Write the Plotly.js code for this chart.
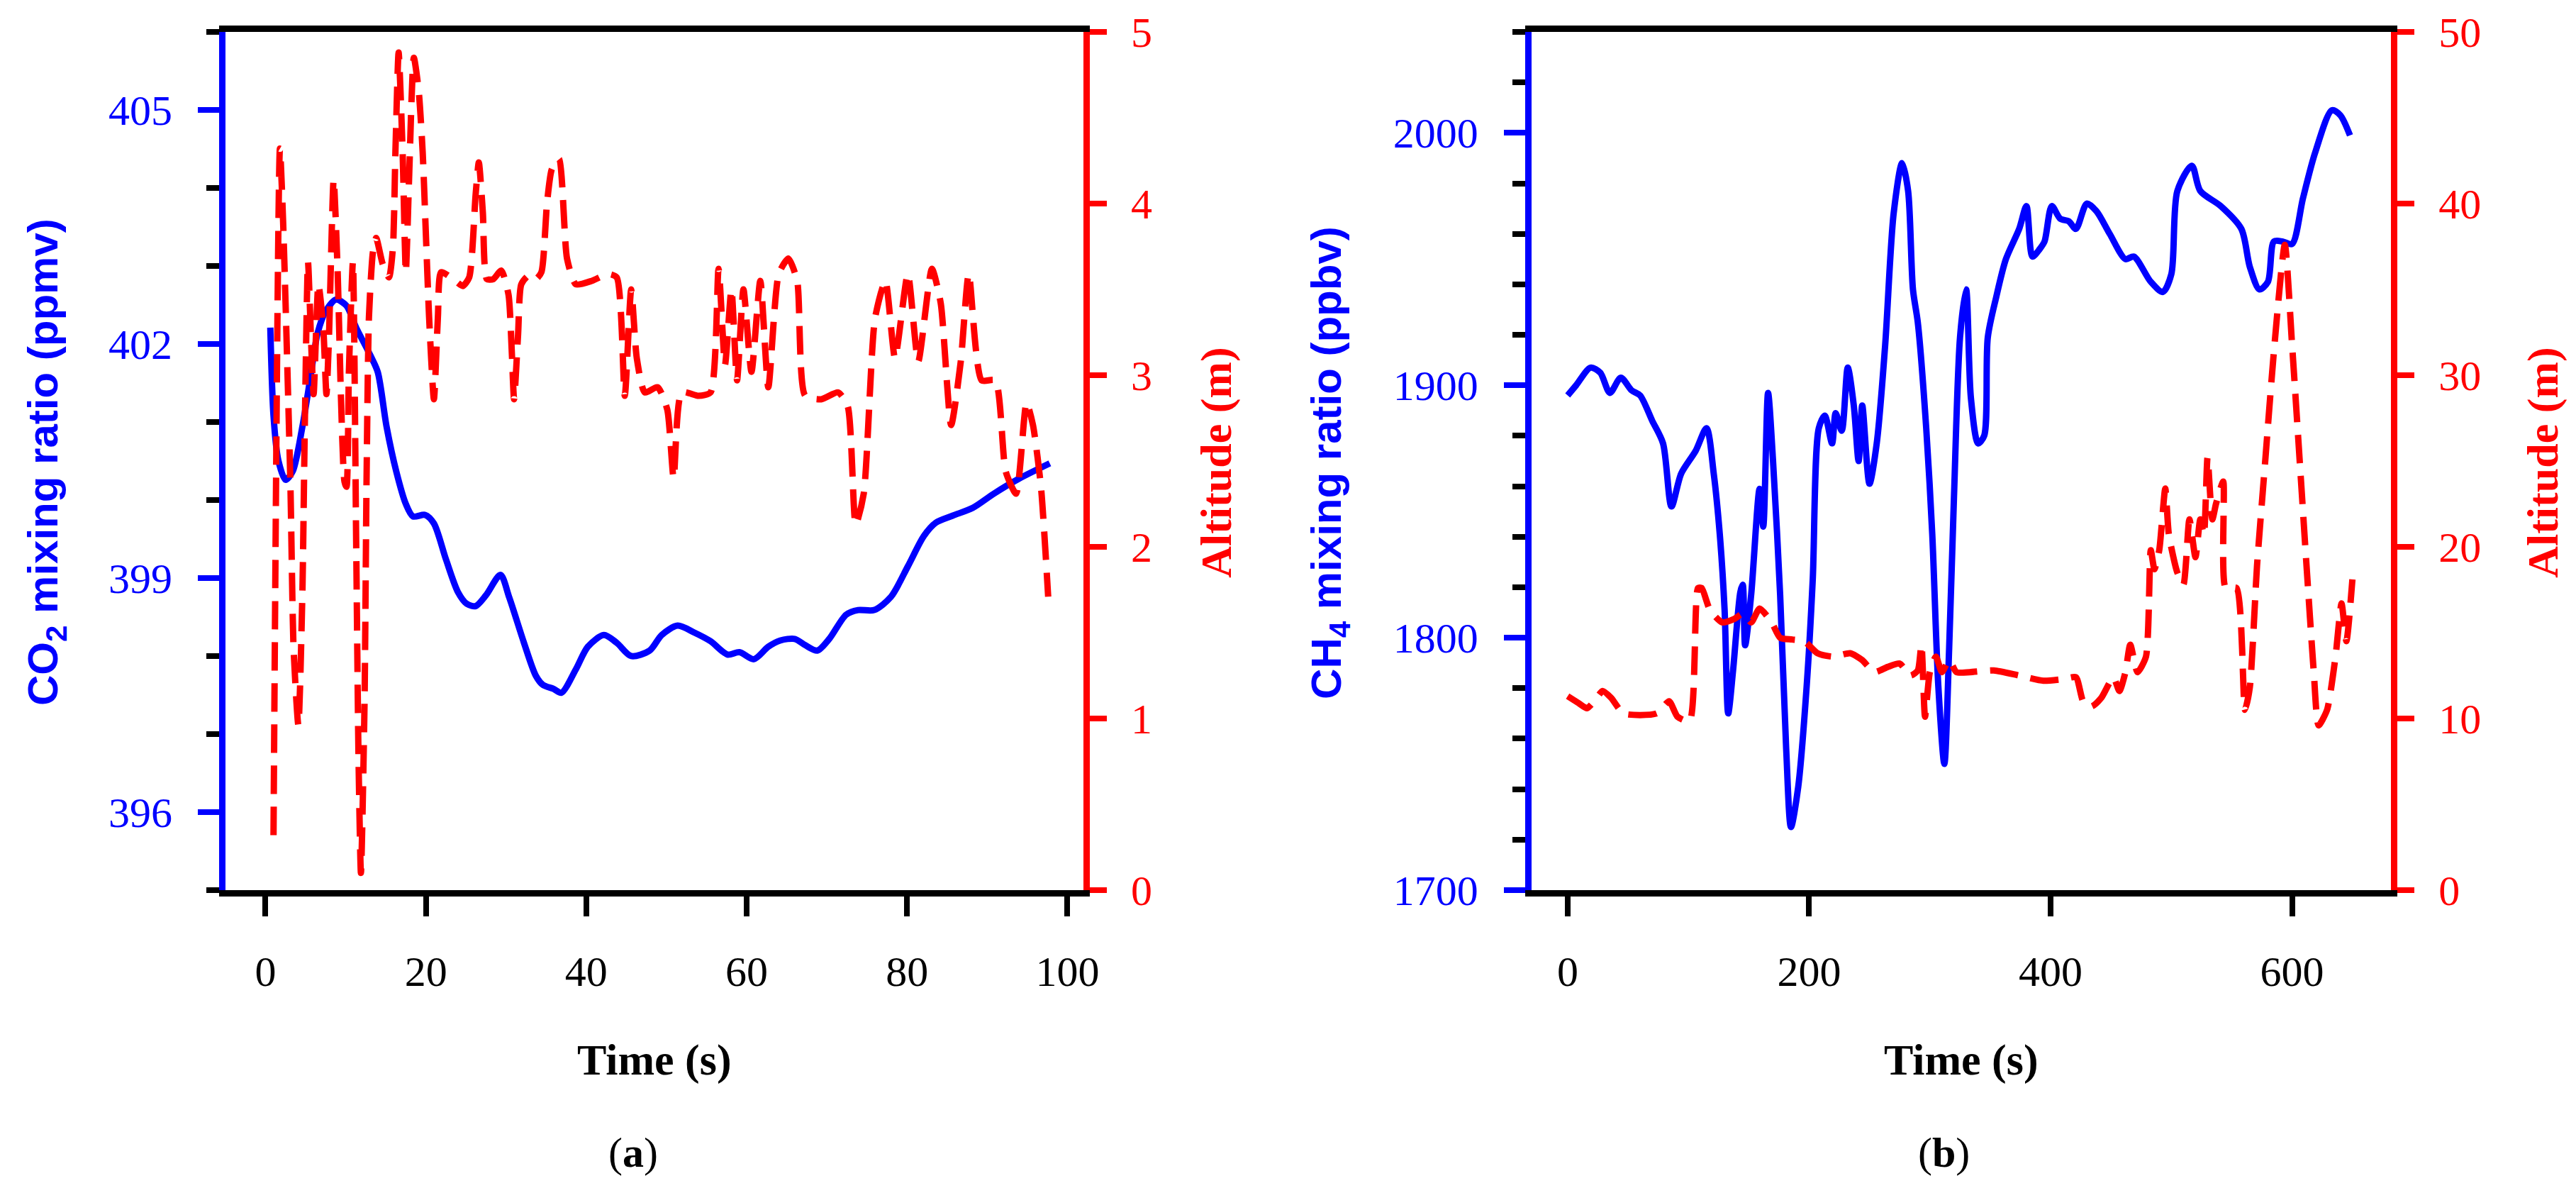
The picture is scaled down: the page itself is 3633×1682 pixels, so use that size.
<!DOCTYPE html>
<html>
<head>
<meta charset="utf-8">
<script src="https://cdn.plot.ly/plotly-3.0.1.min.js"></script>
<style>
  html, body { margin: 0; padding: 0; background: #fff; }
  #chart { width: 3633px; height: 1682px; }
</style>
</head>
<body>
<div id="chart"></div>
<script>
// panel (a): CO2 and altitude over a 100 s flight
var timeA = [0.6, 1.0, 1.6, 2.5, 3.4, 4.6, 5.6, 6.5, 7.5, 8.8, 10.1, 11.3, 13.1, 14.0, 15.1, 16.3, 17.5, 18.4, 19.9, 21.0,
    22.5, 24.0, 25.1, 26.2, 27.5, 29.3, 30.4, 32.2, 33.7, 34.6, 35.9, 36.9, 38.7, 40.2, 42.2, 43.8, 45.6, 47.9, 49.4, 51.4,
    53.5, 55.5, 57.6, 59.1, 60.9, 62.7, 64.2, 66.0, 67.3, 68.8, 70.3, 72.4, 73.9, 75.9, 78.0, 80.1, 82.1, 83.6, 85.7, 88.2,
    90.8, 93.9, 97.8];
var co2 = [402.21, 401.08, 400.51, 400.26, 400.37, 400.94, 401.57, 402.14, 402.42, 402.57, 402.49, 402.21, 401.85, 401.64, 400.94, 400.37, 399.95, 399.79, 399.81, 399.70,
    399.24, 398.82, 398.67, 398.64, 398.78, 399.04, 398.75, 398.18, 397.75, 397.63, 397.58, 397.53, 397.83, 398.12, 398.27, 398.17, 398.00, 398.07, 398.27, 398.39,
    398.30, 398.19, 398.02, 398.05, 397.96, 398.12, 398.20, 398.22, 398.14, 398.07, 398.22, 398.53, 398.59, 398.59, 398.76, 399.15, 399.54, 399.71, 399.80, 399.90,
    400.08, 400.27, 400.47];

var altTimeA = [1.0, 1.8, 2.2, 3.1, 3.5, 4.1, 4.6, 4.9, 5.3, 5.7, 6.0, 6.6, 7.2, 7.6, 7.9, 8.5, 9.0, 9.4, 9.85, 10.1,
    10.4, 10.9, 11.3, 11.6, 11.9, 12.35, 12.6, 12.9, 13.4, 13.8, 14.6, 15.4, 15.9, 16.2, 16.6, 17.1, 17.5, 17.9, 18.5, 19.1,
    19.6, 20.0, 20.4, 21.0, 21.5, 21.9, 23.4, 24.6, 25.4, 26.2, 26.6, 27.1, 27.6, 28.4, 29.4, 30.3, 30.7, 31.0, 31.5, 31.9,
    32.8, 33.7, 34.4, 35.1, 35.7, 36.6, 37.6, 38.7, 40.7, 42.7, 43.8, 44.8, 45.6, 46.3, 47.3, 48.9, 50.1, 50.9, 51.9, 54.0,
    55.5, 56.5, 57.3, 58.1, 58.8, 59.6, 60.6, 61.7, 62.7, 64.0, 65.2, 66.3, 67.3, 69.3, 71.4, 72.6, 73.6, 74.6, 76.0, 77.3,
    78.5, 80.1, 81.4, 83.1, 84.2, 85.5, 86.7, 87.7, 89.3, 91.0, 92.3, 93.6, 94.9, 95.7, 96.7, 97.6];
var altA = [0.32, 4.32, 3.89, 2.38, 1.41, 0.96, 1.73, 2.70, 3.66, 3.18, 2.89, 3.53, 3.28, 2.89, 3.20, 4.14, 3.60, 2.89, 2.38, 2.35,
    3.02, 3.66, 2.06, 0.77, 0.10, 1.09, 2.38, 3.34, 3.72, 3.80, 3.65, 3.57, 3.75, 4.30, 4.88, 4.30, 3.60, 4.14, 4.85, 4.66,
    4.30, 3.82, 3.34, 2.86, 3.34, 3.60, 3.56, 3.52, 3.57, 4.05, 4.24, 3.95, 3.56, 3.56, 3.61, 3.47, 3.15, 2.86, 3.24, 3.53,
    3.58, 3.56, 3.60, 4.00, 4.20, 4.26, 3.68, 3.53, 3.55, 3.59, 3.57, 2.88, 3.50, 3.10, 2.90, 2.93, 2.80, 2.40, 2.90, 2.88,
    2.90, 3.62, 3.06, 3.50, 2.97, 3.50, 3.02, 3.55, 2.93, 3.59, 3.68, 3.55, 2.88, 2.86, 2.90, 2.82, 2.13, 2.31, 3.33, 3.55,
    3.10, 3.59, 3.08, 3.62, 3.42, 2.71, 3.08, 3.59, 2.97, 2.97, 2.44, 2.31, 2.84, 2.71, 2.35, 1.71];

// panel (b): CH4 and altitude over a 650 s flight
var timeB = [0, 7, 19, 27, 35, 44, 53, 60, 70, 79, 86, 94, 106, 115, 121, 126, 130, 133, 137, 143,
    145, 147, 152, 159, 162, 166, 170, 176, 181, 185, 191, 198, 203, 208, 213, 219, 222, 227, 232, 237,
    241, 244, 250, 256, 263, 270, 277, 282, 286, 290, 297, 302, 307, 312, 316, 320, 325, 330, 334, 340,
    345, 348, 355, 363, 374, 380, 385, 391, 395, 401, 408, 415, 421, 430, 438, 449, 462, 469, 483, 493,
    500, 505, 517, 524, 541, 558, 565, 573, 580, 585, 592, 600, 609, 619, 633, 640, 648];
var ch4 = [1896, 1900, 1907, 1905, 1897, 1903, 1898, 1896, 1886, 1877, 1852, 1865, 1874, 1883, 1865, 1841, 1811, 1770, 1787, 1818,
    1821, 1797, 1817, 1859, 1844, 1897, 1871, 1817, 1756, 1725, 1741, 1781, 1823, 1883, 1888, 1877, 1889, 1882, 1907, 1892,
    1870, 1892, 1861, 1877, 1916, 1968, 1988, 1977, 1938, 1925, 1883, 1841, 1781, 1750, 1796, 1856, 1919, 1938, 1895, 1877,
    1880, 1919, 1935, 1950, 1962, 1971, 1951, 1954, 1957, 1971, 1966, 1965, 1962, 1972, 1969, 1960, 1950, 1951, 1941, 1937,
    1944, 1977, 1987, 1977, 1971, 1962, 1947, 1938, 1941, 1957, 1957, 1956, 1974, 1992, 2009, 2007, 1999];

var altTimeB = [0, 9, 16, 22, 29, 36, 46, 60, 74, 84, 91, 101, 108, 111, 118, 128, 138, 145, 152, 159,
    169, 176, 186, 196, 207, 220, 234, 244, 254, 265, 275, 284, 290, 293, 296, 300, 305, 310, 316, 322,
    333, 353, 374, 394, 411, 421, 427, 434, 442, 452, 457, 462, 466, 472, 479, 483, 486, 490, 495, 498,
    505, 510, 515, 520, 524, 527, 530, 534, 537, 543, 545, 554, 561, 565, 571, 578, 585, 594, 600, 607,
    612, 618, 622, 629, 636, 641, 645, 650];
var altB = [11.3, 10.9, 10.6, 11.0, 11.6, 11.2, 10.3, 10.2, 10.3, 11.0, 10.1, 9.85, 17.6, 17.6, 16.3, 15.6, 15.8, 16.1, 15.6, 16.4,
    15.6, 14.7, 14.6, 14.5, 13.8, 13.6, 13.8, 13.4, 12.7, 13.0, 13.2, 12.5, 12.8, 14.3, 10.1, 12.7, 13.6, 12.7, 13.4, 12.7,
    12.7, 12.8, 12.5, 12.2, 12.3, 12.4, 11.0, 10.7, 11.2, 12.4, 11.6, 12.7, 14.3, 12.7, 13.6, 19.8, 18.7, 19.8, 23.4, 20.7,
    18.5, 17.8, 21.6, 19.4, 21.6, 20.7, 25.2, 21.6, 22.5, 23.8, 17.6, 17.6, 10.5, 11.8, 18.9, 25.2, 31.4, 37.6, 31.8, 24.3,
    18.9, 12.7, 9.6, 10.5, 13.6, 16.7, 14.5, 18.1];

var blue = "#0000FF";
var red = "#FF0000";
var serif = "Liberation Serif, Times New Roman, serif";
var sans = "Liberation Sans, Arial, sans-serif";

function gasTrace(x, y, xa, ya){
    return {
        type: "scatter", mode: "lines", x: x, y: y, xaxis: xa, yaxis: ya,
        line: {color: blue, width: 9, shape: "spline", smoothing: 0.8},
        hoverinfo: "skip"
    };
}

function altTrace(x, y, xa, ya){
    return {
        type: "scatter", mode: "lines", x: x, y: y, xaxis: xa, yaxis: ya,
        line: {color: red, width: 9, dash: "40px,18px", shape: "spline", smoothing: 0.6},
        hoverinfo: "skip"
    };
}

function timeAxis(domain, range, dtick, yref){
    return {
        domain: domain, range: range, dtick: dtick, tick0: 0, anchor: yref,
        showline: true, linecolor: "black", linewidth: 9, mirror: true,
        ticks: "outside", ticklen: 28, tickwidth: 8, tickcolor: "black",
        ticklabelstandoff: 26,
        showgrid: false, zeroline: false,
        tickfont: {family: serif, size: 60, color: "black"}
    };
}

function gasAxis(range, dtick, minorTick, xref){
    return {
        domain: [0.2539, 0.9732], range: range, dtick: dtick, anchor: xref,
        showline: true, linecolor: blue, linewidth: 9,
        ticks: "outside", ticklen: 30, tickwidth: 8, tickcolor: blue,
        ticklabelstandoff: 24,
        minor: {dtick: minorTick, ticks: "outside", ticklen: 18, tickwidth: 8, tickcolor: "black", showgrid: false},
        showgrid: false, zeroline: false,
        tickfont: {family: serif, size: 60, color: blue}
    };
}

function altAxis(range, dtick, xref, over){
    return {
        range: range, dtick: dtick, tick0: 0, anchor: xref, overlaying: over, side: "right",
        showline: true, linecolor: red, linewidth: 9,
        ticks: "outside", ticklen: 24, tickwidth: 8, tickcolor: red,
        ticklabelstandoff: 22,
        showgrid: false, zeroline: false,
        tickfont: {family: serif, size: 60, color: red}
    };
}

function label(text, x, y, font, angle){
    return {
        text: text, xref: "paper", yref: "paper", x: x, y: y,
        xanchor: "center", yanchor: "middle", showarrow: false,
        textangle: angle || 0, font: font
    };
}

var data = [
    altTrace(altTimeA, altA, "x", "y2"),
    gasTrace(timeA, co2, "x", "y"),
    altTrace(altTimeB, altB, "x2", "y4"),
    gasTrace(timeB, ch4, "x2", "y3")
];

var gasFont = {family: sans, size: 60, color: blue};
var altFont = {family: serif, size: 62, color: red};
var timeFont = {family: serif, size: 62, color: "black"};

var layout = {
    width: 3633, height: 1682,
    margin: {l: 0, r: 0, t: 0, b: 0},
    paper_bgcolor: "white", plot_bgcolor: "white",
    showlegend: false,
    xaxis: timeAxis([0.0875, 0.4206], [-5, 102], 20, "y"),
    yaxis: gasAxis([395, 406], 3, 1, "x"),
    yaxis2: altAxis([0, 5], 1, "x", "y"),
    xaxis2: timeAxis([0.5945, 0.9282], [-30, 682], 200, "y3"),
    yaxis3: gasAxis([1700, 2040], 100, 20, "x2"),
    yaxis4: altAxis([0, 50], 10, "x2", "y3"),
    annotations: [
        label("<b>CO<sub>2</sub> mixing ratio (ppmv)</b>", 0.0179, 0.6124, gasFont, -90),
        label("<b>Altitude (m)</b>", 0.4723, 0.6124, altFont, -90),
        label("<b>Time (s)</b>", 0.2541, 0.1112, timeFont),
        label("(<b>a</b>)", 0.2458, 0.0339, {family: serif, size: 60, color: "black"}),
        label("<b>CH<sub>4</sub> mixing ratio (ppbv)</b>", 0.5161, 0.6124, gasFont, -90),
        label("<b>Altitude (m)</b>", 0.9873, 0.6124, altFont, -90),
        label("<b>Time (s)</b>", 0.7614, 0.1112, timeFont),
        label("(<b>b</b>)", 0.7545, 0.0339, {family: serif, size: 60, color: "black"})
    ]
};

Plotly.newPlot("chart", data, layout, {staticPlot: true});
</script>
</body>
</html>
